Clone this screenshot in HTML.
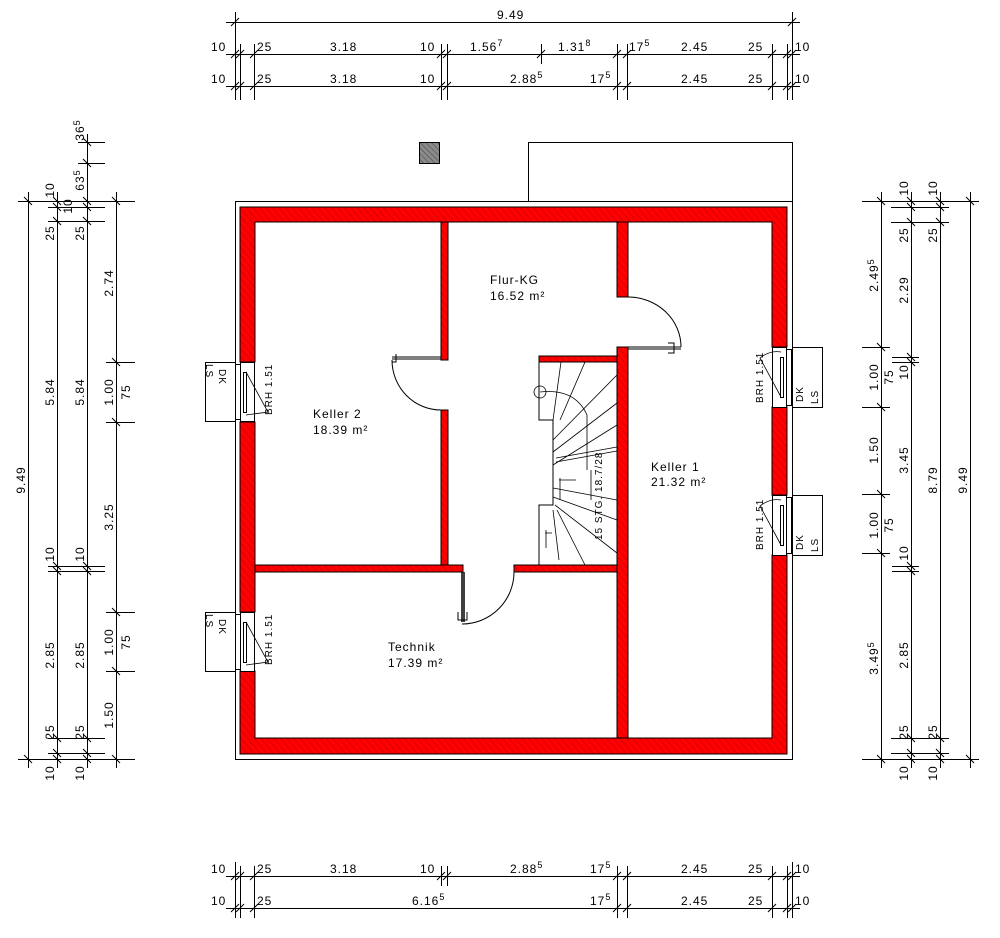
<!DOCTYPE html>
<html><head><meta charset="utf-8"><style>
html,body{margin:0;padding:0;background:#fff;}
svg{display:block;}
text{font-family:"Liberation Sans",sans-serif;font-size:12px;fill:#000;letter-spacing:1px;}
.d{font-size:12px;}
.s{font-size:9px;}
</style></head><body>
<svg width="1000" height="938" viewBox="0 0 1000 938" xmlns="http://www.w3.org/2000/svg">
<defs>
<pattern id="h" width="5" height="5" patternUnits="userSpaceOnUse" patternTransform="rotate(-40)">
<rect width="5" height="5" fill="#ff0000"/><line x1="0" y1="0" x2="0" y2="5" stroke="#7a0000" stroke-width="0.6"/>
</pattern>
<pattern id="g" width="4" height="4" patternUnits="userSpaceOnUse" patternTransform="rotate(-45)">
<rect width="4" height="4" fill="#8a8a8a"/><line x1="0" y1="0" x2="0" y2="4" stroke="#333" stroke-width="0.8"/>
</pattern>
</defs>
<g fill="none" stroke="#000" stroke-width="1">
<rect x="235.5" y="201.5" width="557" height="558"/>
<rect x="528.5" y="142.5" width="264" height="59"/>
<rect x="419.5" y="142.5" width="20" height="21" fill="url(#g)"/>
</g>
<g fill="url(#h)" stroke="#000" stroke-width="1">
<path d="M240 207 H787 V347 H772 V222 H255 V362 H240 Z"/>
<path d="M772 407 H787 V495 H772 Z"/>
<path d="M772 555 H787 V754 H240 V671 H255 V738 H772 Z"/>
<path d="M240 422 H255 V612 H240 Z"/>
<rect x="441" y="222" width="7" height="138"/>
<rect x="441" y="410" width="7" height="155"/>
<path d="M255 565 H463 V572 H255 Z"/>
<path d="M514 565 H617 V572 H514 Z"/>
<rect x="617" y="222" width="11" height="75"/>
<rect x="617" y="347" width="11" height="391"/>
<rect x="539" y="356" width="78" height="6"/>
</g>
<g fill="#fff" stroke="#000" stroke-width="1">
<rect x="240.5" y="362.5" width="14" height="59"/><rect x="243.5" y="372.5" width="3" height="40"/>
<rect x="235.5" y="364.5" width="5" height="55"/><rect x="205.5" y="362.5" width="30" height="59"/>
<rect x="240.5" y="612.5" width="14" height="59"/><rect x="243.5" y="622.5" width="3" height="40"/>
<rect x="235.5" y="614.5" width="5" height="55"/><rect x="205.5" y="612.5" width="30" height="59"/>
<rect x="772.5" y="347.5" width="14" height="60"/><rect x="780.5" y="357.5" width="3" height="40"/>
<rect x="786.5" y="349.5" width="5" height="56"/><rect x="792.5" y="347.5" width="30" height="60"/>
<rect x="772.5" y="495.5" width="14" height="60"/><rect x="780.5" y="505.5" width="3" height="40"/>
<rect x="786.5" y="497.5" width="5" height="56"/><rect x="792.5" y="495.5" width="30" height="60"/>
</g>
<g fill="none" stroke="#000" stroke-width="0.8">
<path d="M246 372 L268 412 L246 415"/><path d="M246 622 L268 662 L246 665"/>
<path d="M781 397 L760 358 Q770 350 781 352"/><path d="M781 545 L760 506 Q770 498 781 500"/>
</g>
<g>
<text transform="translate(206 364) rotate(90)" style="font-size:10px">LS</text>
<text transform="translate(219 369) rotate(90)" style="font-size:10px">DK</text>
<text transform="translate(206 614) rotate(90)" style="font-size:10px">LS</text>
<text transform="translate(219 619) rotate(90)" style="font-size:10px">DK</text>
<text transform="translate(272 415) rotate(-90)" style="font-size:10px">BRH 1.51</text>
<text transform="translate(272 665) rotate(-90)" style="font-size:10px">BRH 1.51</text>
<text transform="translate(763 403) rotate(-90)" style="font-size:10px">BRH 1.51</text>
<text transform="translate(763 550) rotate(-90)" style="font-size:10px">BRH 1.51</text>
<text transform="translate(803 402) rotate(-90)" style="font-size:10px">DK</text>
<text transform="translate(818 404) rotate(-90)" style="font-size:10px">LS</text>
<text transform="translate(803 550) rotate(-90)" style="font-size:10px">DK</text>
<text transform="translate(818 552) rotate(-90)" style="font-size:10px">LS</text>
</g>
<g fill="none" stroke="#000" stroke-width="1">
<path d="M628 297 A53 50 0 0 1 681 347"/><path d="M628 347 H681 M628 349 H681"/><path d="M668 343 H674 V353 H668"/>
<path d="M441 410 A49 50 0 0 1 392 360"/><path d="M392 357 H441 M392 359 H441"/><path d="M396 354 V362 H392"/>
<path d="M514 572 A52 52 0 0 1 462 624"/><path d="M462 572 V622 M464 572 V622" stroke-width="1.5"/><path d="M458 612 V620 H467 V612"/>
</g>
<g fill="none" stroke="#000" stroke-width="0.8">
<path d="M539 362 V420 H553 V505 H539 V565" stroke-width="1"/>
<circle cx="540" cy="392" r="6"/>
<path d="M540 392 Q575 388 587 415 V470"/>
<path d="M561 362 L553 420 M585 362 L560 420 M617 375 L553 440 M617 403 L553 452 M617 425 L553 465 M617 447 L556 458 M617 451 L556 462 M617 500 L553 488 M617 520 L553 497 M617 553 L555 505 M585 565 L557 510 M559 560 L553 510"/>
<path d="M559 480 H576 M591 470 V500 M560 478 V500 M546 530 V548 M545 533 H552"/>
</g>
<text transform="translate(602 540) rotate(-90)" style="font-size:10px">15 STG. 18.7/28</text>
<text x="490" y="284">Flur-KG</text><text x="490" y="300">16.52 m²</text>
<text x="313" y="418">Keller 2</text><text x="313" y="434">18.39 m²</text>
<text x="651" y="471">Keller 1</text><text x="651" y="486">21.32 m²</text>
<text x="388" y="651">Technik</text><text x="388" y="667">17.39 m²</text>
<g fill="none" stroke="#000" stroke-width="1">
<path d="M226 22.5 H800 M226 54.5 H800 M226 86.5 H800 M226 876.5 H800 M226 908.5 H800"/>
<path d="M235.5 12 V100 M792.5 12 V100 M235.5 862 V918 M792.5 862 V918"/>
<path d="M231 26 L239 18 M788 26 L796 18"/>
<path d="M240.5 44 V100 M254.5 44 V100 M441.5 44 V100 M447.5 44 V100 M617.5 44 V100 M627.5 44 V100 M772.5 44 V100 M787.5 44 V100 M541.5 44 V64"/>
<path d="M231 58 L239 50 M236 58 L244 50 M250 58 L258 50 M437 58 L445 50 M443 58 L451 50 M537 58 L545 50 M613 58 L621 50 M623 58 L631 50 M768 58 L776 50 M783 58 L791 50 M788 58 L796 50"/>
<path d="M231 90 L239 82 M236 90 L244 82 M250 90 L258 82 M437 90 L445 82 M443 90 L451 82 M613 90 L621 82 M623 90 L631 82 M768 90 L776 82 M783 90 L791 82 M788 90 L796 82"/>
<path d="M240.5 866 V918 M254.5 866 V918 M441.5 866 V886 M447.5 866 V886 M617.5 866 V918 M627.5 866 V918 M772.5 866 V918 M787.5 866 V918"/>
<path d="M231 880 L239 872 M236 880 L244 872 M250 880 L258 872 M437 880 L445 872 M443 880 L451 872 M613 880 L621 872 M623 880 L631 872 M768 880 L776 872 M783 880 L791 872 M788 880 L796 872"/>
<path d="M231 912 L239 904 M236 912 L244 904 M250 912 L258 904 M613 912 L621 904 M623 912 L631 904 M768 912 L776 904 M783 912 L791 904 M788 912 L796 904"/>
</g>
<g class="d">
<text x="497" y="19">9.49</text>
<text x="211" y="51">10</text><text x="257" y="51">25</text><text x="330" y="51">3.18</text><text x="420" y="51">10</text>
<text x="470" y="51">1.56<tspan class="s" dy="-5">7</tspan></text><text x="558" y="51">1.31<tspan class="s" dy="-5">8</tspan></text>
<text x="629" y="51">17<tspan class="s" dy="-5">5</tspan></text><text x="681" y="51">2.45</text><text x="748" y="51">25</text><text x="795" y="51">10</text>
<text x="211" y="83">10</text><text x="257" y="83">25</text><text x="330" y="83">3.18</text><text x="420" y="83">10</text>
<text x="510" y="83">2.88<tspan class="s" dy="-5">5</tspan></text><text x="590" y="83">17<tspan class="s" dy="-5">5</tspan></text>
<text x="681" y="83">2.45</text><text x="748" y="83">25</text><text x="795" y="83">10</text>
<text x="211" y="873">10</text><text x="257" y="873">25</text><text x="330" y="873">3.18</text><text x="420" y="873">10</text>
<text x="510" y="873">2.88<tspan class="s" dy="-5">5</tspan></text><text x="590" y="873">17<tspan class="s" dy="-5">5</tspan></text>
<text x="681" y="873">2.45</text><text x="748" y="873">25</text><text x="795" y="873">10</text>
<text x="211" y="905">10</text><text x="257" y="905">25</text><text x="412" y="905">6.16<tspan class="s" dy="-5">5</tspan></text>
<text x="590" y="905">17<tspan class="s" dy="-5">5</tspan></text><text x="681" y="905">2.45</text><text x="748" y="905">25</text><text x="795" y="905">10</text>
</g>
<g fill="none" stroke="#000" stroke-width="1">
<path d="M28.5 192 V768 M57.5 192 V768 M87.5 134 V768 M116.5 192 V768"/>
<path d="M18 201.5 H135 M18 759.5 H135"/>
<path d="M48 207.5 H105 M48 221.5 H105 M78 142.5 H105 M78 163.5 H105 M48 566.5 H105 M48 571.5 H105 M48 738.5 H105 M48 753.5 H105"/>
<path d="M106 362.5 H135 M106 422.5 H135 M106 612.5 H135 M106 671.5 H135"/>
<path d="M24 197 L32 205 M53 197 L61 205 M83 197 L91 205 M112 197 L120 205 M24 755 L32 763 M53 755 L61 763 M83 755 L91 763 M112 755 L120 763"/>
<path d="M53 203 L61 211 M83 203 L91 211 M53 217 L61 225 M83 217 L91 225 M83 138 L91 146 M83 159 L91 167 M53 562 L61 570 M83 562 L91 570 M53 567 L61 575 M83 567 L91 575 M53 734 L61 742 M83 734 L91 742 M53 749 L61 757 M83 749 L91 757"/>
<path d="M112 358 L120 366 M112 418 L120 426 M112 608 L120 616 M112 667 L120 675"/>
</g>
<g class="d">
<text transform="translate(25 480) rotate(-90)" text-anchor="middle">9.49</text>
<text transform="translate(54 190) rotate(-90)" text-anchor="middle">10</text>
<text transform="translate(54 233) rotate(-90)" text-anchor="middle">25</text>
<text transform="translate(54 392) rotate(-90)" text-anchor="middle">5.84</text>
<text transform="translate(54 554) rotate(-90)" text-anchor="middle">10</text>
<text transform="translate(54 655) rotate(-90)" text-anchor="middle">2.85</text>
<text transform="translate(54 732) rotate(-90)" text-anchor="middle">25</text>
<text transform="translate(54 773) rotate(-90)" text-anchor="middle">10</text>
<text transform="translate(84 130) rotate(-90)" text-anchor="middle">36<tspan class="s" dy="-4">5</tspan></text>
<text transform="translate(84 180) rotate(-90)" text-anchor="middle">63<tspan class="s" dy="-4">5</tspan></text>
<text transform="translate(72 206) rotate(-90)" text-anchor="middle">10</text>
<text transform="translate(84 233) rotate(-90)" text-anchor="middle">25</text>
<text transform="translate(84 392) rotate(-90)" text-anchor="middle">5.84</text>
<text transform="translate(84 554) rotate(-90)" text-anchor="middle">10</text>
<text transform="translate(84 655) rotate(-90)" text-anchor="middle">2.85</text>
<text transform="translate(84 732) rotate(-90)" text-anchor="middle">25</text>
<text transform="translate(84 773) rotate(-90)" text-anchor="middle">10</text>
<text transform="translate(113 283) rotate(-90)" text-anchor="middle">2.74</text>
<text transform="translate(113 392) rotate(-90)" text-anchor="middle">1.00</text>
<text transform="translate(130 392) rotate(-90)" text-anchor="middle">75</text>
<text transform="translate(113 517) rotate(-90)" text-anchor="middle">3.25</text>
<text transform="translate(113 642) rotate(-90)" text-anchor="middle">1.00</text>
<text transform="translate(130 642) rotate(-90)" text-anchor="middle">75</text>
<text transform="translate(113 715) rotate(-90)" text-anchor="middle">1.50</text>
</g>
<g fill="none" stroke="#000" stroke-width="1">
<path d="M881.5 192 V768 M911.5 192 V768 M940.5 192 V768 M970.5 192 V768"/>
<path d="M862 201.5 H979 M862 759.5 H979"/>
<path d="M891 207.5 H949 M891 222.5 H949 M891 738.5 H949 M891 753.5 H949"/>
<path d="M862 347.5 H890 M862 407.5 H890 M862 494.5 H890 M862 553.5 H890"/>
<path d="M892 357.5 H919 M892 362.5 H919 M892 566.5 H919 M892 571.5 H919"/>
<path d="M877 197 L885 205 M907 197 L915 205 M936 197 L944 205 M966 197 L974 205 M877 755 L885 763 M907 755 L915 763 M936 755 L944 763 M966 755 L974 763"/>
<path d="M907 203 L915 211 M936 203 L944 211 M907 218 L915 226 M936 218 L944 226 M907 734 L915 742 M936 734 L944 742 M907 749 L915 757 M936 749 L944 757"/>
<path d="M877 343 L885 351 M877 403 L885 411 M877 490 L885 498 M877 549 L885 557 M907 353 L915 361 M907 358 L915 366 M907 562 L915 570 M907 567 L915 575"/>
</g>
<g class="d">
<text transform="translate(878 275) rotate(-90)" text-anchor="middle">2.49<tspan class="s" dy="-4">5</tspan></text>
<text transform="translate(878 377) rotate(-90)" text-anchor="middle">1.00</text>
<text transform="translate(893 377) rotate(-90)" text-anchor="middle">75</text>
<text transform="translate(878 450) rotate(-90)" text-anchor="middle">1.50</text>
<text transform="translate(878 525) rotate(-90)" text-anchor="middle">1.00</text>
<text transform="translate(893 525) rotate(-90)" text-anchor="middle">75</text>
<text transform="translate(878 658) rotate(-90)" text-anchor="middle">3.49<tspan class="s" dy="-4">5</tspan></text>
<text transform="translate(908 188) rotate(-90)" text-anchor="middle">10</text>
<text transform="translate(908 235) rotate(-90)" text-anchor="middle">25</text>
<text transform="translate(908 290) rotate(-90)" text-anchor="middle">2.29</text>
<text transform="translate(908 372) rotate(-90)" text-anchor="middle">10</text>
<text transform="translate(908 460) rotate(-90)" text-anchor="middle">3.45</text>
<text transform="translate(908 553) rotate(-90)" text-anchor="middle">10</text>
<text transform="translate(908 655) rotate(-90)" text-anchor="middle">2.85</text>
<text transform="translate(908 732) rotate(-90)" text-anchor="middle">25</text>
<text transform="translate(908 773) rotate(-90)" text-anchor="middle">10</text>
<text transform="translate(937 188) rotate(-90)" text-anchor="middle">10</text>
<text transform="translate(937 235) rotate(-90)" text-anchor="middle">25</text>
<text transform="translate(937 480) rotate(-90)" text-anchor="middle">8.79</text>
<text transform="translate(937 732) rotate(-90)" text-anchor="middle">25</text>
<text transform="translate(937 773) rotate(-90)" text-anchor="middle">10</text>
<text transform="translate(967 480) rotate(-90)" text-anchor="middle">9.49</text>
</g>
</svg>
</body></html>
